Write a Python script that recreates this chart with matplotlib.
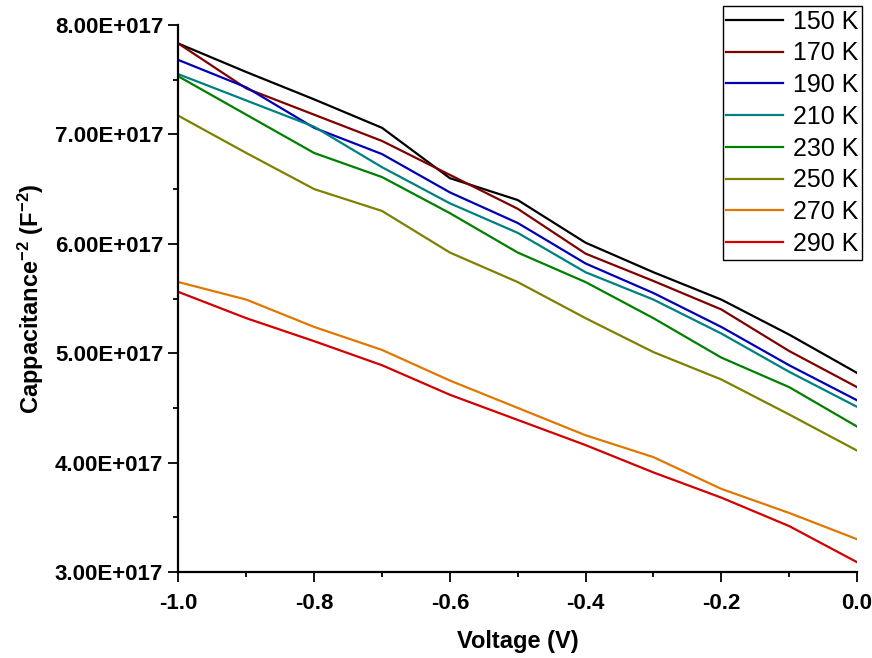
import numpy as np
import matplotlib
matplotlib.use("Agg")
import matplotlib.pyplot as plt
from matplotlib.ticker import FuncFormatter, MultipleLocator

plt.rcParams['font.family'] = ['Liberation Sans', 'DejaVu Sans']
plt.rcParams['mathtext.fontset'] = 'custom'
plt.rcParams['mathtext.bf'] = 'Liberation Sans:bold'
plt.rcParams['mathtext.rm'] = 'Liberation Sans'
plt.rcParams['mathtext.default'] = 'bf'

# voltage points (V)
voltage = [-1.0, -0.9, -0.8, -0.7, -0.6, -0.5, -0.4, -0.3, -0.2, -0.1, 0.0]

# 1/C^2 in units of 1e17 F^-2, one list per temperature
c150 = [7.83, 7.57, 7.32, 7.06, 6.60, 6.40, 6.01, 5.74, 5.49, 5.17, 4.82]
c170 = [7.83, 7.42, 7.18, 6.94, 6.63, 6.32, 5.91, 5.66, 5.40, 5.02, 4.69]
c190 = [7.68, 7.43, 7.06, 6.82, 6.47, 6.19, 5.82, 5.55, 5.24, 4.89, 4.57]
c210 = [7.55, 7.31, 7.07, 6.70, 6.37, 6.10, 5.74, 5.49, 5.18, 4.83, 4.51]
c230 = [7.53, 7.18, 6.83, 6.61, 6.28, 5.92, 5.65, 5.32, 4.96, 4.69, 4.33]
c250 = [7.17, 6.83, 6.50, 6.30, 5.92, 5.65, 5.32, 5.01, 4.76, 4.44, 4.11]
c270 = [5.65, 5.49, 5.24, 5.03, 4.75, 4.50, 4.25, 4.05, 3.76, 3.54, 3.30]
c290 = [5.56, 5.32, 5.11, 4.89, 4.62, 4.39, 4.16, 3.91, 3.68, 3.42, 3.09]

series = [c150, c170, c190, c210, c230, c250, c270, c290]
labels = ["150 K", "170 K", "190 K", "210 K", "230 K", "250 K", "270 K", "290 K"]
colors = ["#000000", "#800000", "#0000b4", "#008080", "#008000",
          "#808000", "#e07800", "#d20000"]

fig = plt.figure(figsize=(8.72, 6.58), dpi=100)
ax = fig.add_axes([0.2047, 0.1307, 0.7781, 0.8313])

for vals, lab, col in zip(series, labels, colors):
    ax.plot(voltage, np.array(vals) * 1e17, color=col, lw=1.6, label=lab)

ax.set_xlim(-1.0, 0.0)
ax.set_ylim(3e17, 8e17)
ax.xaxis.set_major_locator(MultipleLocator(0.2))
ax.xaxis.set_minor_locator(MultipleLocator(0.1))
ax.yaxis.set_major_locator(MultipleLocator(1e17))
ax.yaxis.set_minor_locator(MultipleLocator(0.5e17))

def sci_fmt(v, pos):
    return "%.2fE+0%02d" % (v / 1e17, 17)

ax.yaxis.set_major_formatter(FuncFormatter(sci_fmt))
ax.xaxis.set_major_formatter(FuncFormatter(lambda v, p: "%.1f" % v))

for s in ["top", "right"]:
    ax.spines[s].set_visible(False)
for s in ["left", "bottom"]:
    ax.spines[s].set_linewidth(1.6)

ax.tick_params(which="major", direction="out", length=7, width=1.3,
               labelsize=16, pad=4)
ax.tick_params(axis="x", which="major", pad=8)
ax.tick_params(which="minor", direction="out", length=3.5, width=1.3)
for t in ax.get_xticklabels() + ax.get_yticklabels():
    t.set_fontweight("bold")

ax.set_xlabel("Voltage (V)", fontsize=17, fontweight="bold", labelpad=12)
ax.set_ylabel(r"Cappacitance$^{-2}$ (F$^{-2}$)", fontsize=17,
              fontweight="bold", labelpad=6)

leg = ax.legend(loc="upper right", bbox_to_anchor=(0.9885, 0.991),
                bbox_transform=fig.transFigure, borderaxespad=0,
                fontsize=18, handlelength=2.25, handletextpad=0.4,
                labelspacing=0.31, borderpad=0.15, fancybox=False,
                framealpha=1, edgecolor="black")
leg.get_frame().set_linewidth(1.0)

plt.savefig("out.png", dpi=100)
